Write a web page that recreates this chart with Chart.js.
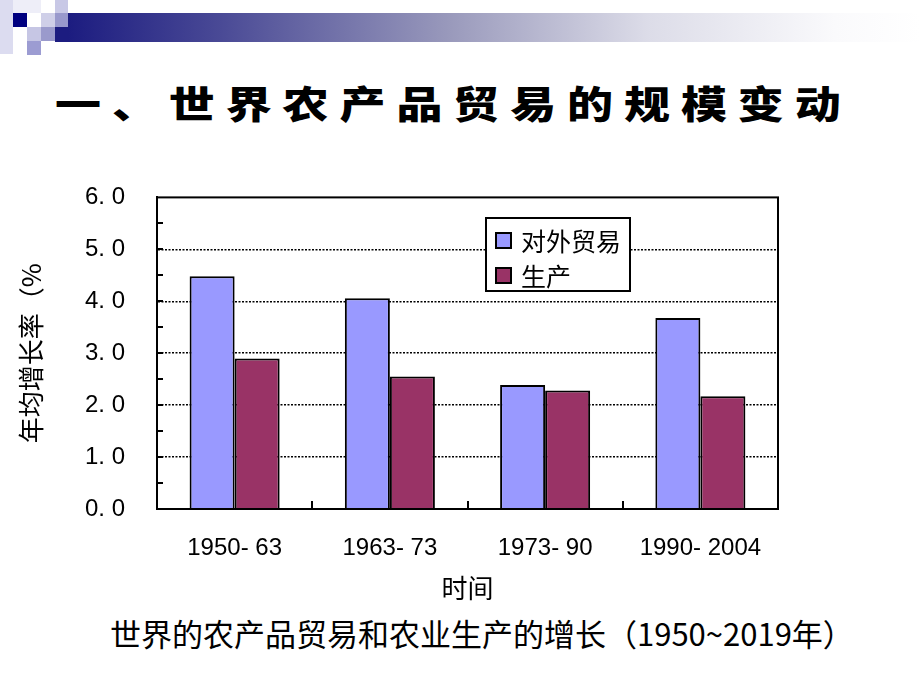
<!DOCTYPE html>
<html>
<head>
<meta charset="utf-8">
<script src="https://cdn.jsdelivr.net/npm/chart.js@4/dist/chart.umd.min.js"></script>
<style>
  html, body { margin: 0; padding: 0; background: #fff; }
  body { width: 920px; height: 690px; position: relative; overflow: hidden; font-family: "Noto Sans CJK SC", sans-serif; }
  .sq { position: absolute; }
  #bar { position: absolute; left: 68px; top: 13px; width: 852px; height: 29px;
         background: linear-gradient(to right, #1c1c80 0%, #4a4a96 18%, #9a9abc 45%, #dcdce8 68%, #fafafc 90%, #fff 100%); }
  #titulo { position: absolute; left: 55px; top: 77px; font-size: 46px; line-height: 50px; font-weight: 900;
            letter-spacing: 10.9px; white-space: nowrap; color: #000; transform: scaleY(0.82); transform-origin: 0 50%; }
  #wrap { position: absolute; left: 0; top: 151px; width: 820px; height: 459px; }
  #leyenda { position: absolute; left: 485px; top: 217px; width: 142px; height: 71px; border: 2px solid #000;
             background: #fff; }
  .item { position: absolute; left: 8px; height: 30px; display: flex; align-items: center; font-size: 25px; line-height: 30px; }
  .item span.box { width: 13px; height: 13px; border: 2px solid #000; margin-right: 9px; }
  #pie { position: absolute; left: 110px; top: 613px; font-size: 31px; line-height: 40px; white-space: nowrap; color: #000; }
</style>
</head>
<body>
<!-- decoración de la plantilla -->
<div class="sq" style="left:0;top:0;width:13px;height:54px;background:#dcdcf0"></div>
<div class="sq" style="left:13px;top:0;width:28px;height:13px;background:#eeeef8"></div>
<div class="sq" style="left:13px;top:13px;width:14px;height:14px;background:#000080"></div>
<div class="sq" style="left:27px;top:27px;width:14px;height:14px;background:#c6c6e4"></div>
<div class="sq" style="left:27px;top:41px;width:14px;height:14px;background:#9c9cd2"></div>
<div class="sq" style="left:41px;top:13px;width:14px;height:14px;background:#cfcfe8"></div>
<div class="sq" style="left:41px;top:27px;width:14px;height:14px;background:#9a9acc"></div>
<div class="sq" style="left:55px;top:0;width:13px;height:13px;background:#c8c8e6"></div>
<div class="sq" style="left:55px;top:13px;width:13px;height:14px;background:#9999cc"></div>
<div class="sq" style="left:55px;top:27px;width:13px;height:15px;background:#1c1c80"></div>
<div id="bar"></div>

<div id="titulo">一、世界农产品贸易的规模变动</div>

<div id="wrap"><canvas id="grafico"></canvas></div>
<div id="leyenda"></div>

<div id="pie">世界的农产品贸易和农业生产的增长（1950~2019年）</div>

<script>
// Datos del gráfico
const periodos = ['1950- 63', '1963- 73', '1973- 90', '1990- 2004'];
const comercioExterior = [4.48, 4.06, 2.39, 3.68];
const produccion = [2.9, 2.55, 2.28, 2.17];
const nombresSeries = ['对外贸易', '生产'];
const coloresSeries = ['#9999ff', '#993366'];
const yTicks = [0, 1, 2, 3, 4, 5, 6];
const yTickLabels = ['0. 0', '1. 0', '2. 0', '3. 0', '4. 0', '5. 0', '6. 0'];
const tituloY = '年均增长率（%';
const tituloX = '时间';

// Leyenda en HTML
const leyenda = document.getElementById('leyenda');
nombresSeries.forEach((nombre, i) => {
    const item = document.createElement('div');
    item.className = 'item';
    item.style.top = (6 + i * 35) + 'px';
    item.innerHTML = '<span class="box" style="background:' + coloresSeries[i] + '"></span>' + nombre;
    leyenda.appendChild(item);
});

// Marcas interiores y marco del área
const marcoPlugin = {
    id: 'marco',
    afterDraw(chart) {
        const { ctx, chartArea: a, scales: { x, y } } = chart;
        ctx.save();
        ctx.strokeStyle = '#000';
        ctx.lineWidth = 2;
        // marcas del eje y cada 0.5
        for (let v = 0.5; v < 6; v += 0.5) {
            const py = Math.round(y.getPixelForValue(v));
            ctx.beginPath();
            ctx.moveTo(a.left, py);
            ctx.lineTo(a.left + 6, py);
            ctx.stroke();
        }
        // marcas entre categorías
        for (let i = 0; i < periodos.length - 1; i++) {
            const px = Math.round((x.getPixelForValue(i) + x.getPixelForValue(i + 1)) / 2);
            ctx.beginPath();
            ctx.moveTo(px, a.bottom);
            ctx.lineTo(px, a.bottom - 8);
            ctx.stroke();
        }
        ctx.strokeRect(a.left, a.top, a.right - a.left, a.bottom - a.top);
        ctx.restore();
    }
};

new Chart(document.getElementById('grafico'), {
    type: 'bar',
    data: {
        labels: periodos,
        datasets: [{
            label: nombresSeries[0],
            data: comercioExterior,
            backgroundColor: coloresSeries[0],
            borderColor: '#000',
            borderWidth: 2
        }, {
            label: nombresSeries[1],
            data: produccion,
            backgroundColor: coloresSeries[1],
            borderColor: '#000',
            borderWidth: 2
        }]
    },
    options: {
        responsive: true,
        maintainAspectRatio: false,
        animation: false,
        layout: { padding: { top: 0, right: 42, bottom: 6, left: 0 } },
        datasets: { bar: { categoryPercentage: 0.58, barPercentage: 1.0 } },
        plugins: {
            legend: { display: false },
            tooltip: { enabled: false }
        },
        scales: {
            x: {
                afterFit: scale => { scale.height = 95; },
                grid: { display: false, drawTicks: false },
                border: { color: '#000', width: 2 },
                ticks: {
                    color: '#000',
                    padding: 25,
                    maxRotation: 0,
                    font: { family: 'Liberation Sans', size: 24 }
                },
                title: {
                    display: true,
                    text: tituloX,
                    color: '#000',
                    padding: { top: 10, bottom: 0 },
                    font: { family: 'Noto Sans CJK SC', size: 26 }
                }
            },
            y: {
                min: 0,
                max: 6,
                afterFit: scale => { scale.width = 157; },
                grid: {
                    drawTicks: false,
                    lineWidth: 1.5,
                    color: c => (Number.isInteger(c.tick.value) && c.tick.value > 0 && c.tick.value < 6) ? '#000' : 'rgba(0,0,0,0)'
                },
                border: { color: '#000', width: 2, dash: [2, 1.5] },
                ticks: {
                    stepSize: 0.5,
                    color: '#000',
                    padding: 32,
                    font: { family: 'Liberation Sans', size: 24 },
                    callback: value => {
                        const i = yTicks.indexOf(value);
                        return i >= 0 ? yTickLabels[i] : '';
                    }
                },
                title: {
                    display: true,
                    text: tituloY,
                    color: '#000',
                    padding: { top: 16, bottom: 0 },
                    font: { family: 'Noto Sans CJK SC', size: 26 }
                }
            }
        }
    },
    plugins: [marcoPlugin]
});
</script>
</body>
</html>
